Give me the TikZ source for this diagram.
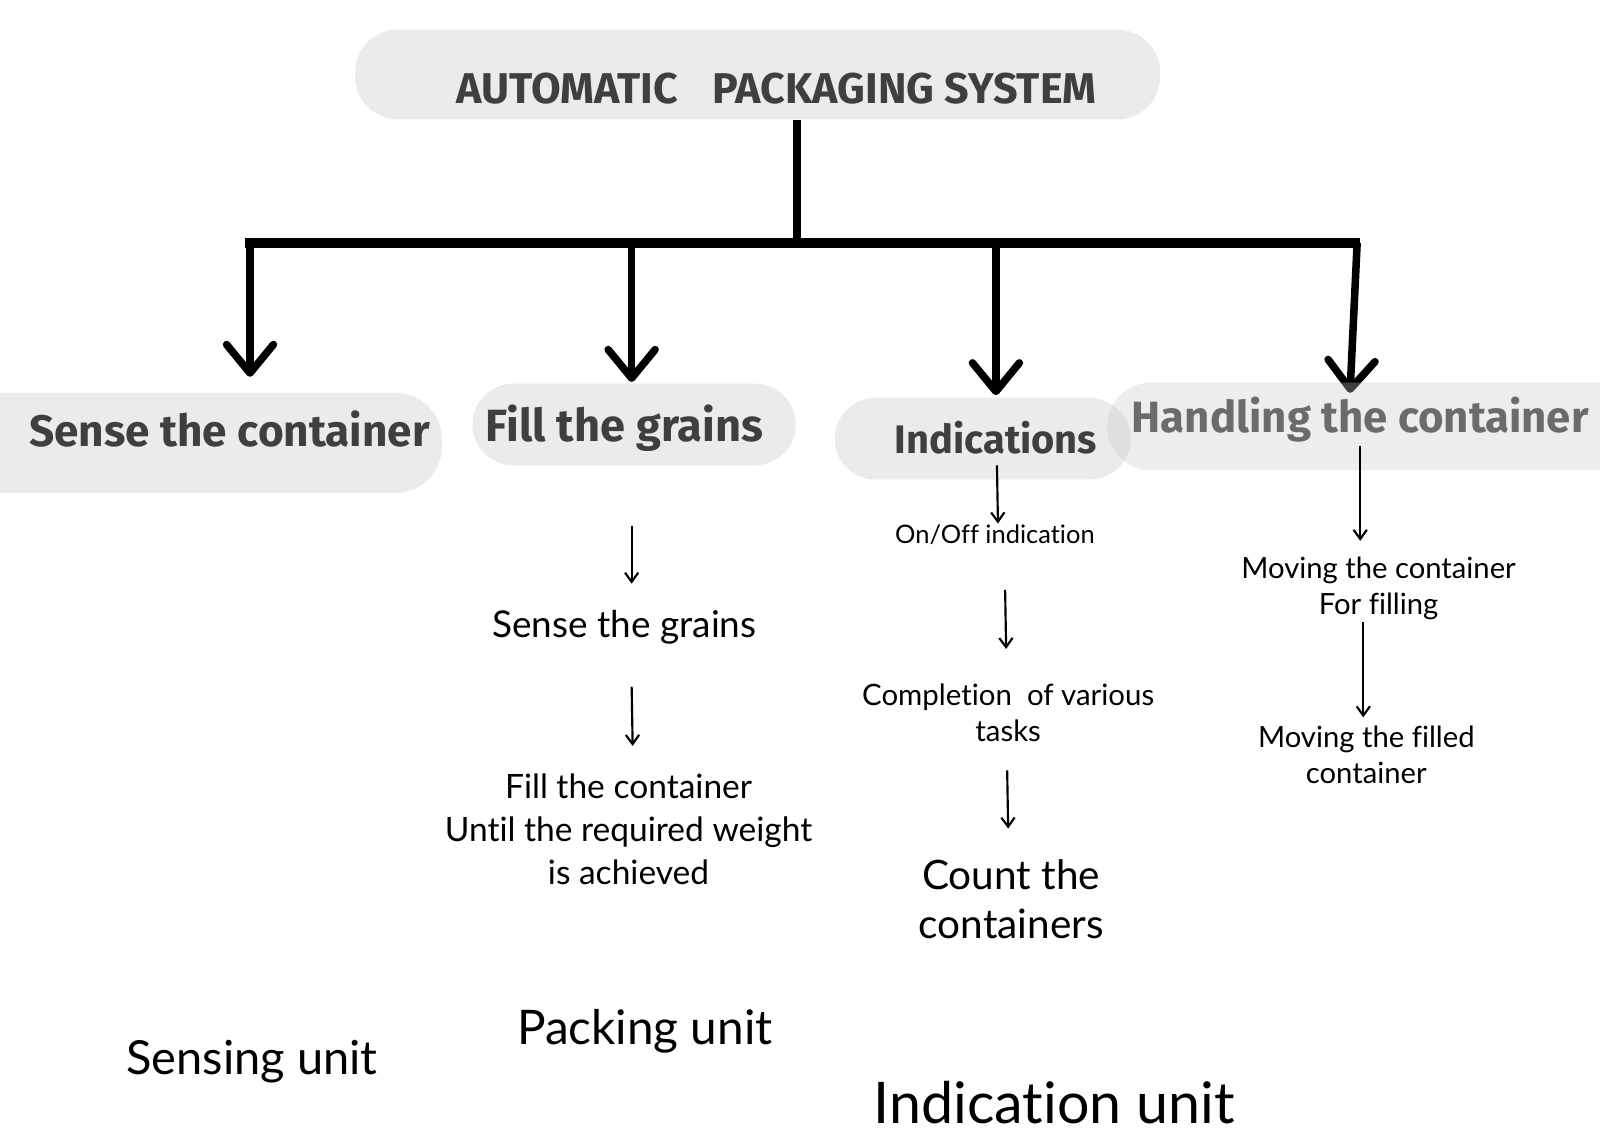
\documentclass[tikz,border=0pt]{standalone}
\usepackage{fontspec}
\setmainfont{Lato}[Ligatures=NoCommon]
\newfontfamily\headfont{Fira Sans}
\usetikzlibrary{arrows.meta}
\definecolor{boxgray}{HTML}{EBEBEB}
\definecolor{headgray}{HTML}{3F3F3F}
\newcommand\myfs[2]{\fontsize{#1}{#2}\selectfont}
\tikzset{
  pill/.style={rectangle, rounded corners=0.42cm, fill=boxgray, draw=none, inner sep=0pt},
  headtxt/.style={font=\headfont\bfseries\myfs{12.2}{14}, text=headgray, inner sep=0pt, anchor=base},
  bodytxt/.style={text=black, inner sep=0pt, align=center, anchor=base},
  bigarr/.style={line width=2.1pt, -{Straight Barb[length=2.8mm,width=4.6mm,round]}},
  smallarr/.style={line width=0.6pt, -{Straight Barb[length=0.9mm,width=1.3mm]}},
}
\begin{document}
\begin{tikzpicture}
\useasboundingbox (0,0) rectangle (15.68,-11.12);
\clip (0,0) rectangle (15.68,-11.12);

% title
\node[pill, minimum width=7.89cm, minimum height=0.88cm] (title) at (7.425,-0.73) {};
\node[headtxt, font=\headfont\bfseries\myfs{12}{14}] (titletxt) at (7.61,-1.01) {AUTOMATIC\hspace{0.8em}PACKAGING SYSTEM};

% trunk and bar
\coordinate (stemx) at (7.81,-2.38);
\coordinate (bl) at (2.40,-2.38);
\coordinate (br) at (13.33,-2.38);
\draw[line width=2.3pt] (title.south -| stemx) -- (stemx);
\draw[line width=2.9pt] (bl) -- (br);

% category boxes
\node[pill, minimum width=4.83cm, minimum height=0.98cm, rounded corners=0.45cm] (scbox) at (1.915,-4.34) {};
\node[pill, minimum width=3.17cm, minimum height=0.80cm, rounded corners=0.40cm] (fgbox) at (6.215,-4.16) {};
\node[pill, minimum width=2.90cm, minimum height=0.80cm, rounded corners=0.40cm] (inbox) at (9.63,-4.30) {};

% branch arrows
\coordinate (b1) at (2.45,-2.38);
\coordinate (b2) at (6.19,-2.38);
\coordinate (b3) at (9.76,-2.38);
\coordinate (b4) at (13.30,-2.38);
\coordinate (b4e) at (13.23,-3.85);
\draw[bigarr, shorten >=0.15cm] (b1) -- (b1 |- scbox.north);
\draw[bigarr, shorten >=0.01cm] (b2) -- (b2 |- fgbox.north);
\draw[bigarr, shorten >=0.02cm] (b3) -- (b3 |- inbox.north);
\draw[bigarr] (b4) -- (b4e);

% headings
\node[headtxt, font=\headfont\bfseries\myfs{12.3}{14}] (sc) at (2.25,-4.38) {Sense the container};
\node[headtxt, font=\headfont\bfseries\myfs{12.6}{14}] (fg) at (6.12,-4.33) {Fill the grains};
\node[headtxt, font=\headfont\bfseries\myfs{11.1}{13}] (in) at (9.76,-4.44) {Indications};
\node[headtxt, font=\headfont\bfseries\myfs{12.2}{14}] (hc) at (13.33,-4.24) {Handling the container};

% handling box (semi-transparent, on top)
\node[pill, minimum width=5.65cm, minimum height=0.86cm, rounded corners=0.43cm, fill=black!22, fill opacity=0.33] (hcbox) at (13.675,-4.18) {};

% packing column
\node[bodytxt, font=\myfs{10.3}{12}] (sg) at (6.12,-6.25) {Sense the grains};
\node[bodytxt, font=\myfs{9.35}{11.95}] (fc) at (6.16,-8.67) {Fill the container\\Until the required weight\\is achieved};
\coordinate (p1s) at (6.19,-5.15);
\coordinate (p1e) at (6.19,-5.72);
\coordinate (p2s) at (6.19,-6.73);
\coordinate (p2e) at (6.20,-7.31);
\draw[smallarr] (p1s) -- (p1e);
\draw[smallarr] (p2s) -- (p2e);

% indication column
\node[bodytxt, font=\myfs{7.1}{9}] (oo) at (9.75,-5.33) {On/Off indication};
\node[bodytxt, font=\myfs{8.2}{10.24}] (ct) at (9.88,-7.27) {Completion\ \ of various\\tasks};
\node[bodytxt, font=\myfs{11.3}{13.7}] (cc) at (9.91,-9.20) {Count the\\containers};
\coordinate (i1s) at (9.77,-4.56);
\coordinate (i1e) at (9.78,-5.13);
\coordinate (i2s) at (9.85,-5.78);
\coordinate (i2e) at (9.86,-6.36);
\coordinate (i3s) at (9.87,-7.55);
\coordinate (i3e) at (9.88,-8.12);
\draw[smallarr] (i1s) -- (i1e);
\draw[smallarr] (i2s) -- (i2e);
\draw[smallarr] (i3s) -- (i3e);

% handling column
\node[bodytxt, font=\myfs{8.15}{10.1}] (mc) at (13.51,-6.02) {Moving the container\\For filling};
\node[bodytxt, font=\myfs{8.15}{10.1}] (mf) at (13.39,-7.68) {Moving the filled\\container};
\coordinate (h1s) at (13.33,-4.37);
\coordinate (h1e) at (13.33,-5.30);
\coordinate (h2s) at (13.36,-6.10);
\coordinate (h2e) at (13.36,-7.03);
\draw[smallarr] (h1s) -- (h1e);
\draw[smallarr] (h2s) -- (h2e);

% unit labels
\node[bodytxt, font=\myfs{13.1}{15}] (su) at (2.47,-10.53) {Sensing unit};
\node[bodytxt, font=\myfs{13.3}{15}] (pu) at (6.32,-10.24) {Packing unit};
\node[bodytxt, font=\myfs{16.0}{18}] (iu) at (10.33,-11.01) {Indication unit};
\end{tikzpicture}
\end{document}
